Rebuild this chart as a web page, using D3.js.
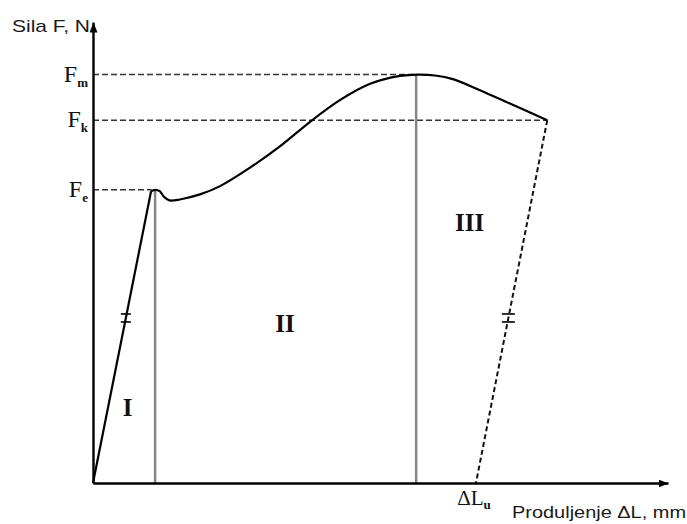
<!DOCTYPE html>
<html lang="hr">
<head>
    <meta charset="UTF-8">
    <title>Dijagram sila - produljenje</title>
    <script src="https://cdnjs.cloudflare.com/ajax/libs/d3/7.8.5/d3.min.js"></script>
    <style>
        body {
            margin: 0;
            background: #fff;
        }
        .sans {
            font-family: "Liberation Sans", Arial, sans-serif;
            fill: #1a1a1a;
        }
        .serif {
            font-family: "Liberation Serif", "Times New Roman", serif;
            fill: #111;
        }
        .curve {
            fill: none;
            stroke: #000;
            stroke-width: 2.2;
        }
        .guide {
            fill: none;
            stroke: #333;
            stroke-width: 1.6;
            stroke-dasharray: 6 3;
        }
        .divider {
            stroke: #858585;
            stroke-width: 2.5;
        }
    </style>
</head>
<body>
<svg id="chart" width="687" height="524"></svg>
<script>
    // --- Data (ΔL in mm, F in N, arbitrary units) ---
    const elasticDL = [0, 10.1];
    const elasticF = [0, 63.3];

    const plasticDL = [10.1, 10.9, 11.6, 12.4, 13.3, 15.1, 18.6, 22.1, 27.3, 32.5, 37.7, 43.0, 48.2, 53.4, 56.5, 59.5, 62.6, 67.3, 72.5, 79.0];
    const plasticF = [63.3, 63.6, 63.3, 62.0, 61.3, 61.5, 62.6, 64.4, 68.4, 73.0, 78.3, 83.1, 86.6, 88.3, 88.6, 88.4, 87.6, 85.2, 82.3, 78.7];

    const levelNames = ["e", "k", "m"];
    const levelF = [63.6, 78.7, 88.6];
    const levelEndDL = [10.2, 79.0, 56.2];

    const dividerDL = [10.8, 56.2];
    const dividerTopF = [63.6, 88.6];

    const dLu = 66.6;
    const slashF = 35.8;

    const zoneNames = ["I", "II", "III"];

    // --- Setup ---
    const svg = d3.select("#chart");
    const x = d3.scaleLinear().domain([0, 100]).range([93, 668]);
    const y = d3.scaleLinear().domain([0, 100]).range([483, 22]);

    const defs = svg.append("defs");
    defs.append("marker")
        .attr("id", "arrow")
        .attr("viewBox", "0 0 10 8")
        .attr("refX", 10).attr("refY", 4)
        .attr("markerWidth", 10).attr("markerHeight", 8)
        .attr("markerUnits", "userSpaceOnUse")
        .attr("orient", "auto")
        .append("path").attr("d", "M0,0L10,4L0,8Z").attr("fill", "#000");

    // --- Guide lines ---
    levelF.forEach((f, i) => {
        svg.append("line")
            .attr("class", "guide")
            .attr("x1", x(0)).attr("x2", x(levelEndDL[i]))
            .attr("y1", y(f)).attr("y2", y(f));
    });

    dividerDL.forEach((d, i) => {
        svg.append("line")
            .attr("class", "divider")
            .attr("x1", x(d)).attr("x2", x(d))
            .attr("y1", y(dividerTopF[i])).attr("y2", y(0));
    });

    // unloading line
    const unload = [[plasticDL[plasticDL.length - 1], plasticF[plasticF.length - 1]], [dLu, 0]];
    svg.append("path")
        .attr("d", d3.line().x(d => x(d[0])).y(d => y(d[1]))(unload))
        .attr("fill", "none")
        .attr("stroke", "#111")
        .attr("stroke-width", 2)
        .attr("stroke-dasharray", "5 3");

    // --- Curve ---
    const line = d3.line().x(d => x(d[0])).y(d => y(d[1]));
    svg.append("path")
        .attr("class", "curve")
        .attr("d", line(elasticDL.map((d, i) => [d, elasticF[i]])));
    svg.append("path")
        .attr("class", "curve")
        .attr("d", line.curve(d3.curveCatmullRom.alpha(0.5))(plasticDL.map((d, i) => [d, plasticF[i]])));

    // parallel marks on elastic and unloading lines
    function slash(p0, p1, f, w) {
        const t = (f - p0[1]) / (p1[1] - p0[1]);
        const cx = x(p0[0] + t * (p1[0] - p0[0]));
        const cy = y(f);
        [-4, 4].forEach(off => {
            svg.append("line")
                .attr("x1", cx - w / 2).attr("x2", cx + w / 2)
                .attr("y1", cy + off).attr("y2", cy + off)
                .attr("stroke", "#000").attr("stroke-width", 1.6);
        });
    }
    slash([elasticDL[0], elasticF[0]], [elasticDL[1], elasticF[1]], slashF, 10);
    slash(unload[1], unload[0], slashF, 13);

    // --- Axes ---
    const yAxis = svg.append("g")
        .attr("transform", `translate(${x(0)},0)`)
        .call(d3.axisLeft(y).tickValues([]).tickSizeOuter(0));
    yAxis.select(".domain").attr("stroke-width", 2.4).attr("marker-end", "url(#arrow)");

    const xAxis = svg.append("g")
        .attr("transform", `translate(0,${y(0)})`)
        .call(d3.axisBottom(x).tickValues([]).tickSizeOuter(0));
    xAxis.select(".domain").attr("stroke-width", 2.4).attr("marker-end", "url(#arrow)");

    // F labels with subscripts
    levelF.forEach((f, i) => {
        const t = svg.append("text")
            .attr("class", "serif")
            .attr("text-anchor", "end")
            .attr("x", x(0) - 5)
            .attr("y", y(f) + 7);
        t.append("tspan").attr("font-size", 24).text("F");
        t.append("tspan").attr("font-size", 13).attr("font-weight", "bold").attr("dy", 5).text(levelNames[i]);
    });

    // ΔLu label
    const lu = svg.append("text")
        .attr("class", "serif")
        .attr("text-anchor", "middle")
        .attr("x", x(dLu) - 2)
        .attr("y", 505);
    lu.append("tspan").attr("font-size", 21).text("ΔL");
    lu.append("tspan").attr("font-size", 13).attr("font-weight", "bold").attr("dy", 4).text("u");

    // axis titles
    svg.append("text")
        .attr("class", "sans")
        .attr("x", 12).attr("y", 32)
        .attr("font-size", 17)
        .attr("textLength", 78).attr("lengthAdjust", "spacingAndGlyphs")
        .text("Sila F, N");

    svg.append("text")
        .attr("class", "sans")
        .attr("x", 512).attr("y", 518)
        .attr("font-size", 17)
        .attr("textLength", 174).attr("lengthAdjust", "spacingAndGlyphs")
        .text("Produljenje ΔL, mm");

    // zone numerals
    const zonePos = [[6.0, 14.5], [33.4, 32.8], [65.5, 54.6]];
    zoneNames.forEach((n, i) => {
        svg.append("text")
            .attr("class", "serif")
            .attr("text-anchor", "middle")
            .attr("font-weight", "bold")
            .attr("font-size", 25)
            .attr("x", x(zonePos[i][0]))
            .attr("y", y(zonePos[i][1]))
            .text(n);
    });
</script>
</body>
</html>
